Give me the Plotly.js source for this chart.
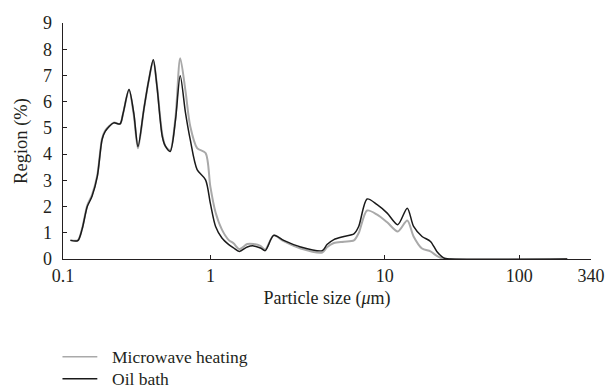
<!DOCTYPE html>
<html>
<head>
<meta charset="utf-8">
<script src="https://cdn.plot.ly/plotly-3.0.1.min.js"></script>
<style>html,body{margin:0;padding:0;background:#fff;}#chart{width:607px;height:389px;}</style>
</head>
<body>
<div id="chart"></div>
<script>
// Instrument channel position along the size axis (0 = 0.1 µm, 100 = 340 µm)
const channel = [1.4, 2.8, 3.6, 4.6, 5.5, 6.5, 7.4, 8.0, 9.6, 10.8, 11.4, 12.5, 13.4, 14.2, 15.3, 16.2, 17.1, 17.8, 18.8, 19.4,
  20.3, 21.3, 22.2, 23.2, 24.1, 25.4, 27.0, 27.9, 28.9, 30.1, 31.4, 32.3, 33.4, 34.9, 36.1, 37.4, 38.3, 39.9, 41.8, 45.0,
  49.1, 50.0, 51.3, 53.2, 55.1, 56.0, 57.6, 59.5, 61.4, 63.4, 65.2, 66.4, 68.0, 69.6, 70.8, 72.1, 73.4, 95.5];

const oilBath = [0.71, 0.70, 1.12, 2.0, 2.39, 3.15, 4.55, 4.87, 5.19, 5.15, 5.57, 6.46, 5.57, 4.29, 5.69, 6.77, 7.6, 6.58, 4.68, 4.3,
  4.10, 5.29, 6.99, 5.57, 4.55, 3.41, 3.02, 2.13, 1.24, 0.8, 0.55, 0.42, 0.29, 0.46, 0.5, 0.42, 0.32, 0.9, 0.71, 0.46,
  0.32, 0.55, 0.74, 0.86, 0.96, 1.24, 2.29, 2.07, 1.75, 1.31, 1.94, 1.24, 0.86, 0.67, 0.29, 0.04, 0, 0];

const microwave = [0.72, 0.71, 1.15, 2.05, 2.45, 3.2, 4.6, 4.9, 5.2, 5.15, 5.57, 6.45, 5.5, 4.22, 5.69, 6.77, 7.58, 6.6, 4.75, 4.3,
  4.15, 5.4, 7.66, 6.4, 5.06, 4.23, 4.04, 2.77, 1.77, 1.12, 0.72, 0.6, 0.38, 0.57, 0.57, 0.5, 0.36, 0.9, 0.68, 0.4,
  0.25, 0.45, 0.61, 0.66, 0.71, 0.99, 1.85, 1.69, 1.4, 1.05, 1.47, 0.86, 0.4, 0.29, 0.12, 0.0, 0, 0];

const tickChannels = [0, 27.92, 60.92, 86.43, 100];
const tickLabels = ["0.1", "1", "10", "100", "340"];
const seriesNames = ["Microwave heating", "Oil bath"];
const seriesColors = ["#a9a9a9", "#1a1a1a"];

const FONT = "Liberation Serif, Times New Roman, serif";
const INK = "#231f20";

const traces = [
  {x: channel, y: microwave, name: seriesNames[0], type: "scatter", mode: "lines",
   line: {color: seriesColors[0], width: 2, shape: "spline", smoothing: 0.8}, showlegend: false, hoverinfo: "skip"},
  {x: channel, y: oilBath, name: seriesNames[1], type: "scatter", mode: "lines",
   line: {color: seriesColors[1], width: 1.5, shape: "spline", smoothing: 0.8}, showlegend: false, hoverinfo: "skip"}
];

const legendY = [-0.414, -0.5072];
const shapes = seriesNames.map((n, i) => ({
  type: "line", xref: "paper", yref: "paper", x0: -0.001, x1: 0.065, y0: legendY[i], y1: legendY[i],
  line: {color: seriesColors[i], width: 1.5}
}));
const annotations = seriesNames.map((n, i) => ({
  xref: "paper", yref: "paper", x: 0.090, y: legendY[i], xanchor: "left", yanchor: "middle",
  borderpad: 0,
  text: n, showarrow: false, font: {family: FONT, size: 17.5, color: INK}
}));

const layout = {
  width: 607, height: 389,
  margin: {l: 62.5, r: 16.3, t: 23.3, b: 129.7, pad: 0},
  paper_bgcolor: "#fff", plot_bgcolor: "#fff",
  font: {family: FONT, size: 17, color: INK},
  showlegend: false,
  xaxis: {
    range: [0, 100], tickmode: "array", tickvals: tickChannels, ticktext: tickLabels,
    ticks: "inside", ticklen: 4, tickwidth: 1.2, tickcolor: INK,
    showline: true, linecolor: INK, linewidth: 1.3, showgrid: false, zeroline: false,
    tickfont: {family: FONT, size: 18, color: INK},
    title: {text: "Particle size (<i>μ</i>m)", font: {family: FONT, size: 18, color: INK}, standoff: 6}
  },
  yaxis: {
    range: [0, 9], tickmode: "linear", tick0: 0, dtick: 1,
    ticks: "inside", ticklen: 4, tickwidth: 1.2, tickcolor: INK,
    showline: true, linecolor: INK, linewidth: 1.3, showgrid: false, zeroline: false,
    tickfont: {family: FONT, size: 18, color: INK}, ticklabelstandoff: 6,
    title: {text: "Region (%)", font: {family: FONT, size: 18.5, color: INK}, standoff: 10}
  },
  shapes: shapes,
  annotations: annotations
};

Plotly.newPlot("chart", traces, layout, {displayModeBar: false, staticPlot: true});
</script>
</body>
</html>
